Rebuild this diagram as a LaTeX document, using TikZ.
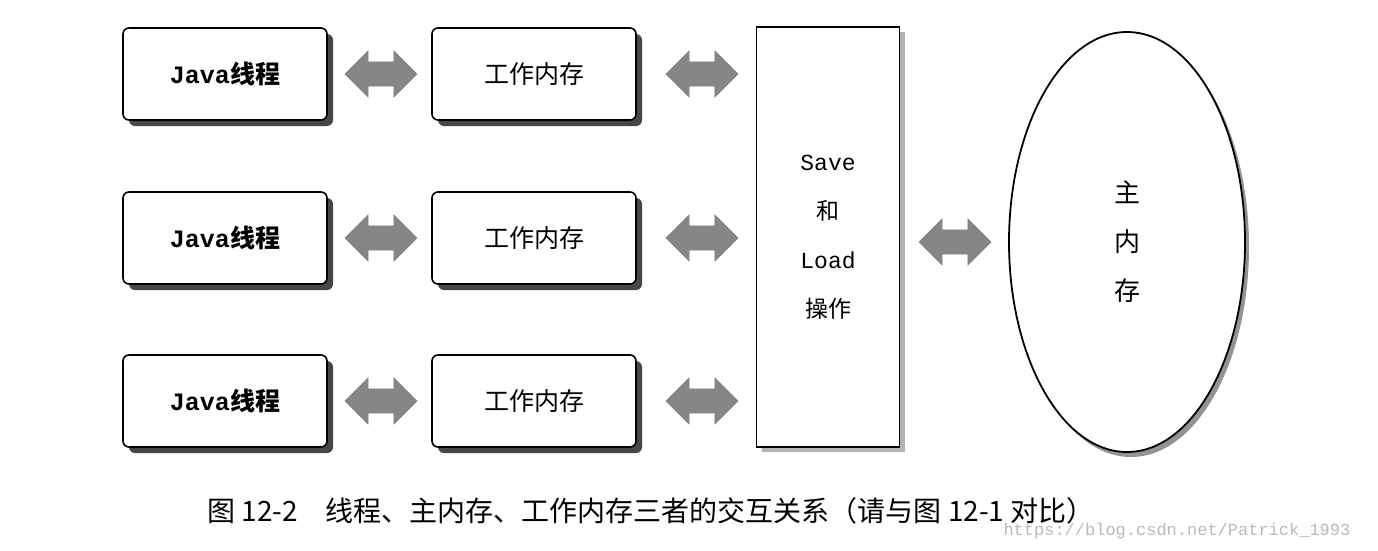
\documentclass[tikz,border=0pt]{standalone}
\usepackage{fontspec}
\setmainfont{Liberation Serif}
\newfontfamily\cjk{Noto Sans CJK SC}
\newfontfamily\monof{Liberation Mono}
\usetikzlibrary{shapes.arrows,shapes.geometric,shadows}
\begin{document}
\begin{tikzpicture}[x=1pt,y=-1pt,
 box/.style={draw,line width=1.6pt,rounded corners=6pt,fill=white,minimum width=204pt,minimum height=92pt,
   drop shadow={shadow xshift=6pt,shadow yshift=-6pt,opacity=0.85,fill=black!85}},
 darr/.style={double arrow,fill=gray!95,draw=gray,double arrow head extend=11pt,inner xsep=0pt,inner ysep=12pt,minimum height=72pt},
 lbl/.style={font=\cjk\fontsize{25}{27}\selectfont}]
\useasboundingbox (0,0) rectangle (1378,550);
\foreach \r/\y in {1/74,2/238,3/401}{
  \node[box,lbl] (j\r) at (225,\y) {\monof\bfseries Java\cjk 线程};
  \node[box,lbl] (w\r) at (534,\y) {工作内存};
  \node[darr] (a\r) at (381,\y) {};
  \node[darr] (b\r) at (702,\y) {};
}
\node[draw,line width=1.6pt,fill=white,minimum width=143pt,minimum height=420pt,align=center,
  font=\fontsize{23}{49}\selectfont,drop shadow={shadow xshift=5pt,shadow yshift=-5pt,opacity=0.6}] (sl) at (828,237)
  {\monof Save\\ \cjk 和\\ \monof Load\\ \cjk 操作};
\node[darr] (c) at (955,242) {};
\node[draw,ellipse,line width=1.8pt,fill=white,minimum width=236pt,minimum height=420pt,align=center,
  font=\cjk\fontsize{26}{49}\selectfont,drop shadow={shadow xshift=4pt,shadow yshift=-5pt,opacity=0.85}] (mm) at (1127,242)
  {主\\内\\存};
\node[anchor=west,font=\cjk\fontsize{28}{30}\selectfont,inner sep=0pt] (cap) at (207,511)
  {图 12-2\hspace{1em}线程、主内存、工作内存三者的交互关系（请与图 12-1 对比）};
\node[anchor=west,text=gray!55,font=\monof\fontsize{17}{18}\selectfont] (wm) at (1000,531) {https://blog.csdn.net/Patrick\_1993};
\end{tikzpicture}
\end{document}
